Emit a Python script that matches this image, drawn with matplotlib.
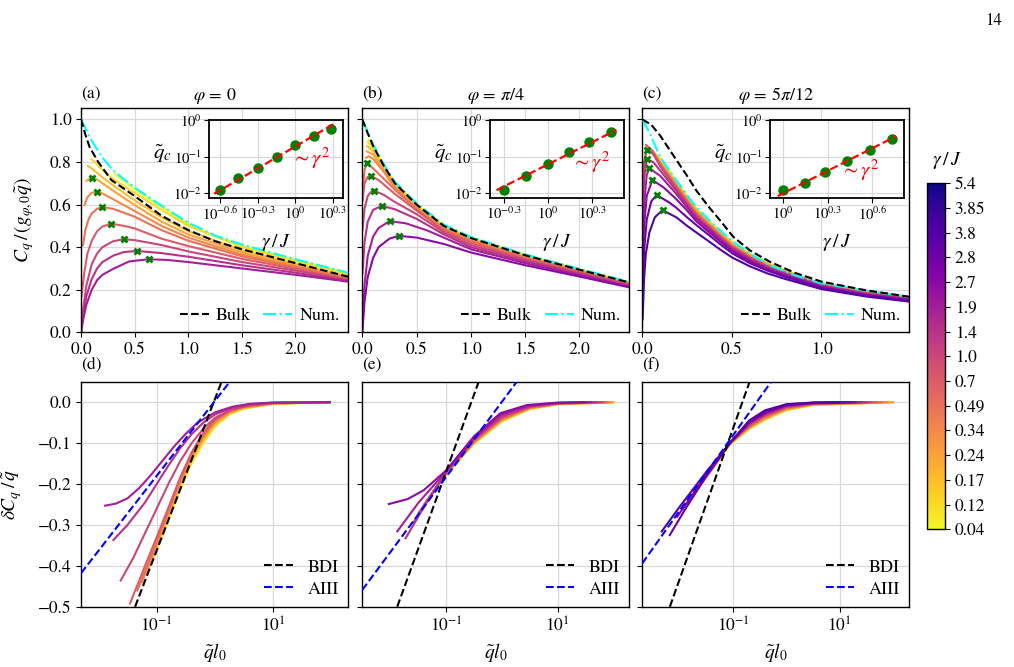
import numpy as np
import matplotlib
matplotlib.use("Agg")
import matplotlib.pyplot as plt
from matplotlib.colors import Normalize
from matplotlib.cm import ScalarMappable

plt.rcParams['font.family'] = 'STIXGeneral'
plt.rcParams['mathtext.fontset'] = 'stix'
plt.rcParams['font.size'] = 12
plt.rcParams['axes.linewidth'] = 1.0

# --- valores de gamma/J (barra de color) ---
gamma_labels = ['0.04', '0.12', '0.17', '0.24', '0.34', '0.49', '0.7', '1.0',
                '1.4', '1.9', '2.7', '2.8', '3.8', '3.85', '5.4']

# --- panel (a): phi = 0 ---
a_bulk_x = [0, 0.04, 0.08, 0.16, 0.283, 0.5, 0.75, 1.0, 1.25, 1.5, 2.0, 2.49]
a_bulk_y = [1.0, 0.93, 0.87, 0.80, 0.715, 0.64, 0.548, 0.48, 0.428, 0.39, 0.325, 0.261]
a_num_x = [0, 0.1, 0.2, 0.3, 0.5, 0.75, 1.0, 1.25, 1.5, 2.0, 2.49]
a_num_y = [1.0, 0.90, 0.82, 0.76, 0.68, 0.595, 0.515, 0.455, 0.412, 0.343, 0.28]
a_curves = {
    0: ([0.31, 0.5, 0.75, 1.0, 1.25, 1.5, 2.0, 2.49],
        [0.745, 0.672, 0.589, 0.509, 0.451, 0.408, 0.340, 0.277]),
    1: ([0.096, 0.15, 0.2, 0.3, 0.5, 0.75, 1.0, 1.5, 2.0, 2.49],
        [0.814, 0.788, 0.762, 0.72, 0.655, 0.575, 0.50, 0.40, 0.334, 0.272]),
    2: ([0.065, 0.1, 0.2, 0.3, 0.5, 0.75, 1.0, 1.5, 2.0, 2.49],
        [0.781, 0.77, 0.728, 0.69, 0.62, 0.54, 0.475, 0.385, 0.322, 0.262]),
    3: ([0.05, 0.075, 0.102, 0.15, 0.2, 0.3, 0.5, 0.75, 1.0, 1.5, 2.0, 2.49],
        [0.71, 0.722, 0.726, 0.718, 0.70, 0.665, 0.598, 0.52, 0.46, 0.375, 0.315, 0.258]),
    4: ([0.034, 0.06, 0.1, 0.149, 0.2, 0.3, 0.5, 0.75, 1.0, 1.5, 2.0, 2.49],
        [0.598, 0.635, 0.655, 0.66, 0.652, 0.625, 0.57, 0.50, 0.445, 0.365, 0.31, 0.255]),
    5: ([0.019, 0.04, 0.07, 0.1, 0.15, 0.199, 0.3, 0.5, 0.75, 1.0, 1.5, 2.0, 2.49],
        [0.41, 0.48, 0.53, 0.558, 0.58, 0.588, 0.58, 0.543, 0.48, 0.43, 0.357, 0.305, 0.252]),
    6: ([0.005, 0.03, 0.06, 0.1, 0.15, 0.2, 0.283, 0.4, 0.5, 0.75, 1.0, 1.5, 2.0, 2.49],
        [0.17, 0.28, 0.37, 0.43, 0.475, 0.497, 0.51, 0.50, 0.488, 0.44, 0.405, 0.345, 0.298, 0.248]),
    7: ([0, 0.02, 0.05, 0.1, 0.15, 0.2, 0.3, 0.4, 0.5, 0.75, 1.0, 1.5, 2.0, 2.49],
        [0.0, 0.11, 0.22, 0.32, 0.37, 0.40, 0.428, 0.437, 0.433, 0.41, 0.38, 0.33, 0.29, 0.245]),
    8: ([0, 0.02, 0.05, 0.1, 0.15, 0.2, 0.3, 0.4, 0.525, 0.75, 1.0, 1.5, 2.0, 2.49],
        [0, 0.08, 0.17, 0.25, 0.30, 0.33, 0.36, 0.377, 0.382, 0.372, 0.355, 0.315, 0.28, 0.241]),
    9: ([0, 0.02, 0.05, 0.1, 0.15, 0.2, 0.3, 0.45, 0.63, 0.8, 1.0, 1.5, 2.0, 2.49],
        [0, 0.06, 0.13, 0.2, 0.245, 0.27, 0.298, 0.333, 0.343, 0.34, 0.33, 0.30, 0.27, 0.238]),
}
a_mark_x = [0.102, 0.149, 0.199, 0.283, 0.40, 0.525, 0.63]
a_mark_y = [0.726, 0.660, 0.588, 0.510, 0.437, 0.382, 0.343]
a_in_g = [0.251, 0.352, 0.507, 0.71, 1.0, 1.406, 1.93]
a_in_q = [0.0128, 0.0257, 0.049, 0.1, 0.204, 0.37, 0.575]
a_fit_g = [0.225, 2.09]
a_fit_q = [0.0098, 0.815]

# --- panel (b): phi = pi/4 ---
b_bulk_x = [0, 0.05, 0.1, 0.2, 0.3, 0.5, 0.75, 1.0, 1.5, 2.0, 2.46]
b_bulk_y = [1.0, 0.935, 0.875, 0.78, 0.70, 0.60, 0.50, 0.443, 0.362, 0.294, 0.234]
b_num_y = [1.0, 0.94, 0.882, 0.787, 0.707, 0.606, 0.506, 0.448, 0.366, 0.298, 0.237]
b_curves = {
    0: ([0.06, 0.1, 0.2, 0.3, 0.5, 0.75, 1.0, 1.5, 2.0, 2.46],
        [0.905, 0.872, 0.782, 0.702, 0.602, 0.503, 0.445, 0.364, 0.296, 0.236]),
    1: ([0.05, 0.1, 0.2, 0.3, 0.5, 0.75, 1.0, 1.5, 2.0, 2.46],
        [0.895, 0.862, 0.776, 0.697, 0.597, 0.499, 0.441, 0.36, 0.293, 0.233]),
    2: ([0.045, 0.1, 0.2, 0.3, 0.5, 0.75, 1.0, 1.5, 2.0, 2.46],
        [0.875, 0.85, 0.77, 0.692, 0.592, 0.495, 0.438, 0.357, 0.291, 0.231]),
    3: ([0.04, 0.1, 0.2, 0.3, 0.5, 0.75, 1.0, 1.5, 2.0, 2.46],
        [0.85, 0.835, 0.762, 0.686, 0.587, 0.491, 0.435, 0.354, 0.289, 0.229]),
    4: ([0.035, 0.06, 0.1, 0.2, 0.3, 0.5, 0.75, 1.0, 1.5, 2.0, 2.46],
        [0.82, 0.826, 0.815, 0.752, 0.679, 0.582, 0.487, 0.432, 0.352, 0.287, 0.228]),
    5: ([0.008, 0.02, 0.04, 0.1, 0.2, 0.3, 0.5, 0.75, 1.0, 1.5, 2.0, 2.46],
        [0.68, 0.76, 0.793, 0.77, 0.72, 0.67, 0.578, 0.484, 0.428, 0.35, 0.285, 0.226]),
    6: ([0.004, 0.02, 0.05, 0.08, 0.15, 0.3, 0.5, 0.75, 1.0, 1.5, 2.0, 2.46],
        [0.62, 0.70, 0.73, 0.735, 0.715, 0.65, 0.572, 0.478, 0.42, 0.345, 0.282, 0.224]),
    7: ([0.002, 0.02, 0.05, 0.08, 0.111, 0.2, 0.3, 0.5, 0.75, 1.0, 1.5, 2.0, 2.46],
        [0.48, 0.58, 0.64, 0.66, 0.665, 0.645, 0.612, 0.555, 0.47, 0.41, 0.34, 0.278, 0.221]),
    8: ([0.002, 0.02, 0.05, 0.1, 0.179, 0.3, 0.5, 0.75, 1.0, 1.5, 2.0, 2.46],
        [0.28, 0.42, 0.52, 0.575, 0.594, 0.578, 0.533, 0.46, 0.40, 0.333, 0.274, 0.218]),
    9: ([0, 0.02, 0.05, 0.1, 0.15, 0.252, 0.4, 0.6, 0.75, 1.0, 1.5, 2.0, 2.46],
        [0, 0.22, 0.36, 0.45, 0.49, 0.522, 0.512, 0.478, 0.445, 0.39, 0.325, 0.268, 0.215]),
    10: ([0, 0.02, 0.05, 0.1, 0.15, 0.25, 0.338, 0.5, 0.75, 1.0, 1.5, 2.0, 2.46],
         [0, 0.14, 0.26, 0.35, 0.40, 0.44, 0.453, 0.445, 0.415, 0.375, 0.315, 0.262, 0.211]),
}
b_mark_x = [0.040, 0.080, 0.111, 0.179, 0.252, 0.338]
b_mark_y = [0.793, 0.735, 0.665, 0.594, 0.522, 0.453]
b_in_g = [0.5, 0.71, 1.0, 1.39, 1.88, 2.67]
b_in_q = [0.0128, 0.0308, 0.063, 0.132, 0.248, 0.478]
b_fit_g = [0.448, 2.9]
b_fit_q = [0.0123, 0.531]

# --- panel (c): phi = 5pi/12 ---
c_bulk_x = [0, 0.05, 0.098, 0.19, 0.25, 0.30, 0.37, 0.433, 0.507, 0.6, 0.71, 0.85, 1.0, 1.25, 1.49]
c_bulk_y = [1.0, 0.975, 0.926, 0.81, 0.735, 0.668, 0.59, 0.527, 0.449, 0.385, 0.332, 0.28, 0.238, 0.197, 0.167]
c_num_x = [0, 0.043, 0.098, 0.19, 0.25, 0.30, 0.37, 0.433, 0.507, 0.6, 0.71, 0.85, 1.0, 1.25, 1.49]
c_num_y = [1.0, 0.934, 0.825, 0.715, 0.645, 0.59, 0.53, 0.48, 0.426, 0.37, 0.316, 0.268, 0.23, 0.195, 0.167]
c_tail_x = [0.37, 0.433, 0.5, 0.6, 0.7, 0.8, 1.0, 1.25, 1.49]
c_curves = {
    0: ([0.1, 0.19, 0.25, 0.3] + c_tail_x,
        [0.82, 0.71, 0.64, 0.585, 0.525, 0.476, 0.425, 0.37, 0.325, 0.29, 0.229, 0.19, 0.165]),
    1: ([0.08, 0.19, 0.25, 0.3] + c_tail_x,
        [0.835, 0.705, 0.636, 0.58, 0.52, 0.472, 0.422, 0.367, 0.322, 0.288, 0.228, 0.189, 0.164]),
    2: ([0.06, 0.19, 0.25, 0.3] + c_tail_x,
        [0.85, 0.70, 0.632, 0.575, 0.516, 0.468, 0.418, 0.364, 0.32, 0.286, 0.227, 0.188, 0.163]),
    3: ([0.05, 0.1, 0.19, 0.25, 0.3] + c_tail_x,
        [0.855, 0.80, 0.695, 0.627, 0.57, 0.512, 0.464, 0.414, 0.361, 0.318, 0.284, 0.226, 0.187, 0.162]),
    4: ([0.04, 0.1, 0.19, 0.25, 0.3] + c_tail_x,
        [0.86, 0.795, 0.69, 0.622, 0.565, 0.508, 0.46, 0.41, 0.358, 0.315, 0.282, 0.225, 0.186, 0.161]),
    5: ([0.03, 0.1, 0.19, 0.25, 0.3] + c_tail_x,
        [0.87, 0.79, 0.685, 0.617, 0.56, 0.504, 0.456, 0.407, 0.355, 0.312, 0.28, 0.224, 0.185, 0.16]),
    6: ([0.02, 0.06, 0.1, 0.19, 0.25, 0.3] + c_tail_x,
        [0.88, 0.85, 0.785, 0.68, 0.612, 0.555, 0.5, 0.452, 0.403, 0.352, 0.31, 0.278, 0.222, 0.184, 0.159]),
    7: ([0.003, 0.012, 0.025, 0.06, 0.1, 0.19, 0.25, 0.3] + c_tail_x,
        [0.70, 0.81, 0.856, 0.84, 0.78, 0.675, 0.605, 0.55, 0.496, 0.448, 0.4, 0.349, 0.307, 0.276, 0.221, 0.182, 0.158]),
    8: ([0.003, 0.01, 0.025, 0.06, 0.1, 0.19, 0.25, 0.3] + c_tail_x,
        [0.55, 0.72, 0.813, 0.80, 0.76, 0.665, 0.597, 0.543, 0.49, 0.443, 0.395, 0.345, 0.304, 0.273, 0.219, 0.18, 0.156]),
    9: ([0.003, 0.01, 0.025, 0.04, 0.1, 0.19, 0.25, 0.3] + c_tail_x,
        [0.40, 0.60, 0.74, 0.77, 0.735, 0.65, 0.587, 0.535, 0.483, 0.437, 0.39, 0.34, 0.3, 0.27, 0.216, 0.178, 0.154]),
    10: ([0.002, 0.01, 0.025, 0.056, 0.12, 0.19, 0.25, 0.3] + c_tail_x,
         [0.25, 0.50, 0.64, 0.715, 0.68, 0.625, 0.572, 0.523, 0.472, 0.428, 0.382, 0.333, 0.295, 0.265, 0.212, 0.175, 0.151]),
    12: ([0.002, 0.01, 0.025, 0.05, 0.08, 0.15, 0.19, 0.25, 0.3] + c_tail_x,
         [0.15, 0.38, 0.53, 0.615, 0.645, 0.61, 0.585, 0.54, 0.505, 0.458, 0.415, 0.372, 0.325, 0.289, 0.26, 0.208, 0.172, 0.148]),
    14: ([0.002, 0.01, 0.02, 0.04, 0.07, 0.113, 0.19, 0.25, 0.3] + c_tail_x,
         [0.06, 0.25, 0.37, 0.47, 0.54, 0.574, 0.54, 0.5, 0.47, 0.428, 0.39, 0.352, 0.31, 0.276, 0.25, 0.203, 0.168, 0.144]),
}
c_mark_x = [0.025, 0.025, 0.040, 0.056, 0.080, 0.113]
c_mark_y = [0.856, 0.813, 0.770, 0.715, 0.645, 0.574]
c_in_g = [1.0, 1.41, 1.91, 2.69, 3.82, 5.4]
c_in_q = [0.0125, 0.0189, 0.0372, 0.0748, 0.15, 0.306]
c_fit_g = [0.925, 5.77]
c_fit_q = [0.0085, 0.363]

# --- paneles inferiores: log10(q l0) y delta C_q / q ---
d_curves = {
    0: ([-1.0, -0.8, -0.6, -0.4, -0.2, 0.0, 0.25, 0.5, 1.0, 1.97],
        [-0.36, -0.29, -0.215, -0.15, -0.10, -0.06, -0.03, -0.016, -0.004, 0.0]),
    1: ([-1.06, -0.8, -0.6, -0.4, -0.2, 0.0, 0.25, 0.5, 1.0, 1.97],
        [-0.38, -0.285, -0.21, -0.145, -0.096, -0.057, -0.028, -0.015, -0.004, 0.0]),
    2: ([-1.12, -0.8, -0.6, -0.4, -0.2, 0.0, 0.25, 0.5, 1.0, 1.97],
        [-0.40, -0.28, -0.205, -0.14, -0.092, -0.054, -0.027, -0.014, -0.004, 0.0]),
    3: ([-1.18, -0.8, -0.6, -0.4, -0.2, 0.0, 0.25, 0.5, 1.0, 1.97],
        [-0.42, -0.275, -0.20, -0.136, -0.088, -0.051, -0.026, -0.013, -0.003, 0.0]),
    4: ([-1.25, -1.0, -0.8, -0.6, -0.4, -0.2, 0.0, 0.25, 0.5, 1.0, 1.97],
        [-0.44, -0.345, -0.27, -0.195, -0.132, -0.084, -0.048, -0.024, -0.012, -0.003, 0.0]),
    5: ([-1.33, -1.0, -0.8, -0.6, -0.4, -0.2, 0.0, 0.25, 0.5, 1.0, 1.97],
        [-0.46, -0.34, -0.265, -0.19, -0.128, -0.08, -0.045, -0.022, -0.011, -0.003, 0.0]),
    6: ([-1.457, -1.2, -1.0, -0.8, -0.6, -0.4, -0.2, 0.0, 0.25, 0.5, 1.0, 1.97],
        [-0.492, -0.40, -0.33, -0.258, -0.185, -0.122, -0.075, -0.042, -0.02, -0.01, -0.002, 0.0]),
    7: ([-1.617, -1.4, -1.2, -1.0, -0.8, -0.6, -0.4, -0.2, 0.0, 0.3, 0.6, 1.0, 1.97],
        [-0.436, -0.38, -0.32, -0.26, -0.20, -0.145, -0.10, -0.065, -0.038, -0.017, -0.007, -0.002, 0.0]),
    8: ([-1.743, -1.5, -1.2, -1.0, -0.8, -0.6, -0.4, -0.2, 0.0, 0.3, 0.6, 1.0, 1.97],
        [-0.337, -0.30, -0.245, -0.20, -0.155, -0.113, -0.078, -0.05, -0.03, -0.013, -0.005, -0.001, 0.0]),
    9: ([-1.886, -1.7, -1.5, -1.3, -1.1, -0.9, -0.7, -0.5, -0.3, 0.0, 0.3, 0.6, 1.0, 1.97],
        [-0.253, -0.248, -0.235, -0.21, -0.178, -0.143, -0.108, -0.077, -0.05, -0.025, -0.011, -0.004, -0.001, 0.0]),
}
d_bdi = ([-1.371, 0.114], [-0.5, 0.0506])
d_aiii = ([-2.297, 0.257], [-0.418, 0.0506])

e_curves = {
    0: ([-1.1, -1.0, -0.5, 0.0, 0.5, 1.0, 2.006], [-0.195, -0.177, -0.101, -0.047, -0.017, -0.005, 0]),
    1: ([-1.15, -1.0, -0.5, 0.0, 0.5, 1.0, 2.0], [-0.203, -0.176, -0.1, -0.046, -0.016, -0.005, 0]),
    2: ([-1.2, -1.0, -0.5, 0.0, 0.5, 1.0, 2.0], [-0.212, -0.175, -0.099, -0.045, -0.016, -0.005, 0]),
    3: ([-1.25, -1.0, -0.5, 0.0, 0.5, 1.0, 2.0], [-0.222, -0.174, -0.098, -0.044, -0.015, -0.004, 0]),
    4: ([-1.3, -1.0, -0.5, 0.0, 0.5, 1.0, 1.95], [-0.23, -0.173, -0.097, -0.042, -0.014, -0.004, 0]),
    5: ([-1.4, -1.0, -0.5, 0.0, 0.5, 1.0, 1.9], [-0.25, -0.172, -0.095, -0.04, -0.013, -0.004, 0]),
    6: ([-1.5, -1.0, -0.5, 0.0, 0.5, 1.0, 1.85], [-0.27, -0.171, -0.093, -0.038, -0.012, -0.003, 0]),
    7: ([-1.6, -1.3, -1.0, -0.5, 0.0, 0.5, 1.0, 1.8], [-0.295, -0.232, -0.17, -0.091, -0.036, -0.011, -0.003, 0]),
    8: ([-1.737, -1.4, -1.0, -0.5, 0.0, 0.5, 1.0, 1.7], [-0.333, -0.255, -0.169, -0.089, -0.033, -0.01, -0.002, 0]),
    9: ([-1.886, -1.5, -1.0, -0.5, -0.03, 0.45, 1.0, 1.6], [-0.316, -0.245, -0.168, -0.087, -0.031, -0.009, -0.002, 0]),
    10: ([-2.036, -1.7, -1.407, -1.0, -0.509, -0.03, 0.449, 1.0, 1.5],
         [-0.249, -0.237, -0.215, -0.166, -0.084, -0.027, -0.007, -0.001, 0.0]),
}
e_bdi = ([-1.886, -0.419], [-0.5, 0.0506])
e_aiii = ([-2.515, 0.269], [-0.459, 0.0506])

f_curves = {
    0: ([-1.25, -1.06, -0.7, -0.4, 0.0, 0.5, 2.0], [-0.138, -0.104, -0.066, -0.043, -0.02, -0.007, 0]),
    1: ([-1.3, -1.06, -0.7, -0.4, 0.0, 0.5, 2.0], [-0.147, -0.103, -0.065, -0.042, -0.019, -0.007, 0]),
    2: ([-1.35, -1.06, -0.7, -0.4, 0.0, 0.5, 2.0], [-0.156, -0.102, -0.064, -0.041, -0.018, -0.006, 0]),
    3: ([-1.4, -1.06, -0.7, -0.4, 0.0, 0.5, 2.0], [-0.165, -0.101, -0.063, -0.04, -0.017, -0.006, 0]),
    4: ([-1.45, -1.06, -0.7, -0.4, 0.0, 0.5, 1.9], [-0.174, -0.1, -0.062, -0.038, -0.016, -0.005, 0]),
    5: ([-1.55, -1.06, -0.7, -0.4, 0.0, 0.5, 1.8], [-0.192, -0.1, -0.06, -0.036, -0.015, -0.005, 0]),
    6: ([-1.65, -1.06, -0.7, -0.4, 0.0, 0.5, 1.7], [-0.21, -0.1, -0.058, -0.034, -0.013, -0.004, 0]),
    7: ([-1.75, -1.5, -1.06, -0.7, -0.4, 0.0, 0.5, 1.6], [-0.228, -0.177, -0.1, -0.056, -0.032, -0.012, -0.003, 0]),
    8: ([-1.85, -1.5, -1.06, -0.7, -0.4, 0.0, 0.5, 1.5], [-0.245, -0.176, -0.1, -0.054, -0.03, -0.01, -0.003, 0]),
    9: ([-1.95, -1.5, -1.06, -0.7, -0.4, 0.0, 0.5, 1.4], [-0.262, -0.176, -0.1, -0.052, -0.028, -0.009, -0.002, 0]),
    10: ([-2.05, -1.5, -1.06, -0.7, -0.4, 0.0, 0.5, 1.3], [-0.28, -0.178, -0.1, -0.05, -0.026, -0.008, -0.002, 0]),
    12: ([-2.19, -1.9, -1.5, -1.06, -0.7, -0.4, 0.0, 0.5, 1.2],
         [-0.325, -0.262, -0.18, -0.1, -0.048, -0.023, -0.006, -0.001, 0]),
    14: ([-2.34, -2.0, -1.5, -1.06, -0.7, -0.4, 0.0, 0.5, 1.0],
         [-0.316, -0.255, -0.17, -0.1, -0.045, -0.02, -0.005, -0.001, 0]),
}
f_bdi = ([-2.1875, -0.6875], [-0.5, 0.0506])
f_aiii = ([-2.706, -0.281], [-0.394, 0.0506])

# en (c) y (f) las curvas mas oscuras se ven violetas, no azul marino
color_shift = {12: 11, 14: 12}

cmap = plt.get_cmap('plasma_r')
norm = Normalize(0, len(gamma_labels) - 1)
GRID = '#d9d9d9'


def curve_color(idx):
    return cmap(norm(color_shift.get(idx, idx)))


fig = plt.figure(figsize=(10.14, 6.67), dpi=100)
fig.text(0.988, 0.968, '14', ha='right', va='center', fontsize=12)

col_left = [0.0799, 0.3573, 0.6334]
wid = 0.2633
top_axes = [fig.add_axes([l, 0.5018, wid, 0.3358]) for l in col_left]
bot_axes = [fig.add_axes([l, 0.0904, wid, 0.3373]) for l in col_left]

top_data = [
    (a_curves, a_bulk_x, a_bulk_y, a_num_x, a_num_y, a_mark_x, a_mark_y, 2.49),
    (b_curves, b_bulk_x, b_bulk_y, b_bulk_x, b_num_y, b_mark_x, b_mark_y, 2.46),
    (c_curves, c_bulk_x, c_bulk_y, c_num_x, c_num_y, c_mark_x, c_mark_y, 1.49),
]
insets = [
    (a_in_g, a_in_q, a_fit_g, a_fit_q, (10**-0.688, 10**0.38), [10**-0.6, 10**-0.3, 1, 10**0.3],
     ['$10^{-0.6}$', '$10^{-0.3}$', '$10^{0}$', '$10^{0.3}$'], (0.61, 0.50)),
    (b_in_g, b_in_q, b_fit_g, b_fit_q, (10**-0.39, 10**0.514), [10**-0.3, 1, 10**0.3],
     ['$10^{-0.3}$', '$10^{0}$', '$10^{0.3}$'], (0.60, 0.46)),
    (c_in_g, c_in_q, c_fit_g, c_fit_q, (10**-0.083, 10**0.812), [1, 10**0.3, 10**0.6],
     ['$10^{0}$', '$10^{0.3}$', '$10^{0.6}$'], (0.52, 0.35)),
]
titles = [r'$\varphi\,=\,0$', r'$\varphi\,=\,\pi/4$', r'$\varphi\,=\,5\pi/12$']

for k, ax in enumerate(top_axes):
    curves, bx, by, nx, ny, mx, my, xmax = top_data[k]
    ax.set_axisbelow(True)
    ax.grid(True, color=GRID, lw=0.9)
    for idx in sorted(curves):
        xs, ys = curves[idx]
        ax.plot(xs, ys, color=curve_color(idx), lw=1.5)
    ax.plot(bx, by, color='k', ls='--', lw=1.5, label='Bulk', zorder=4)
    ax.plot(nx, ny, color='cyan', ls='-.', lw=1.5, label='Num.', zorder=3)
    ax.plot(mx, my, ls='none', marker='x', color='green', ms=5, mew=2, zorder=5)
    ax.set_xlim(0, xmax)
    ax.set_ylim(0, 1.052)
    ax.set_yticks([0, 0.2, 0.4, 0.6, 0.8, 1.0])
    ax.set_xticks([0, 0.5, 1.0, 1.5, 2.0] if xmax > 2 else [0, 0.5, 1.0])
    ax.set_title(titles[k], fontsize=13, pad=6)
    ax.text(0.0, 1.03, '(%s)' % 'abc'[k], transform=ax.transAxes, ha='left', va='bottom', fontsize=12.5)
    if k > 0:
        ax.tick_params(labelleft=False)
    ax.legend(loc='lower right', ncol=2, frameon=False, fontsize=13, borderaxespad=0.05,
              columnspacing=0.7, handlelength=1.6, handletextpad=0.4)

    g, q, fg, fq, xl, xt, xtl, tpos = insets[k]
    ins = ax.inset_axes([0.48, 0.60, 0.50, 0.35])
    ins.set_xscale('log')
    ins.set_yscale('log')
    ins.set_axisbelow(True)
    ins.plot(g, q, 'o', color='green', ms=6.5, zorder=3)
    ins.plot(fg, fq, color='red', ls='--', lw=1.6, zorder=4)
    ins.set_xlim(*xl)
    ins.set_ylim(10**-2.12, 10**0.01)
    ins.set_xticks(xt)
    ins.set_xticklabels(xtl)
    ins.set_yticks([0.01, 0.1, 1])
    ins.set_yticklabels(['$10^{-2}$', '$10^{-1}$', '$10^{0}$'])
    ins.minorticks_off()
    ins.tick_params(labelsize=10.5, length=3.5, pad=2)
    ins.grid(True, color=GRID, lw=0.9)
    for s in ins.spines.values():
        s.set_linewidth(1.3)
    ins.set_xlabel(r'$\gamma\,/\,J$', fontsize=14)
    ins.xaxis.set_label_coords(0.5, -0.43)
    ins.set_ylabel(r'$\tilde{q}_c$', fontsize=15, rotation=0, ha='center', va='center')
    ins.yaxis.set_label_coords(-0.35, 0.56)
    ins.text(tpos[0], tpos[1], r'$\sim\gamma^2$', color='red', fontsize=15,
             transform=ins.transAxes, ha='left', va='center')

top_axes[0].set_ylabel(r'$C_q\,/\,(g_{\varphi,0}\tilde{q})$', fontsize=14)
top_axes[0].yaxis.set_label_coords(-0.17, 0.5)

bot_data = [(d_curves, d_bdi, d_aiii, (-2.298, 2.28)),
            (e_curves, e_bdi, e_aiii, (-2.515, 2.29)),
            (f_curves, f_bdi, f_aiii, (-2.706, 2.31))]
for k, ax in enumerate(bot_axes):
    curves, bdi, aiii, lims = bot_data[k]
    ax.set_xscale('log')
    ax.set_axisbelow(True)
    ax.grid(True, color=GRID, lw=0.9)
    for idx in sorted(curves):
        lx, ys = curves[idx]
        ax.plot(10 ** np.array(lx), ys, color=curve_color(idx), lw=1.5)
    ax.plot(10 ** np.array(bdi[0]), bdi[1], color='k', ls='--', lw=1.5, label='BDI', zorder=4)
    ax.plot(10 ** np.array(aiii[0]), aiii[1], color='blue', ls='--', lw=1.5, label='AIII', zorder=4)
    ax.set_xlim(10 ** lims[0], 10 ** lims[1])
    ax.set_ylim(-0.5, 0.05)
    ax.set_xticks([0.1, 10])
    ax.set_xticklabels(['$10^{-1}$', '$10^{1}$'])
    ax.minorticks_off()
    ax.set_yticks([-0.5, -0.4, -0.3, -0.2, -0.1, 0.0])
    ax.set_xlabel(r'$\tilde{q}l_0$', fontsize=14)
    ax.text(0.0, 1.04, '(%s)' % 'def'[k], transform=ax.transAxes, ha='left', va='bottom', fontsize=12.5)
    if k > 0:
        ax.tick_params(labelleft=False)
    ax.legend(loc='lower right', frameon=False, fontsize=13, borderaxespad=0.1,
              handlelength=1.6, handletextpad=0.8, labelspacing=0.3)

bot_axes[0].set_ylabel(r'$\delta C_q\,/\,\tilde{q}$', fontsize=14)
bot_axes[0].yaxis.set_label_coords(-0.215, 0.5)

for ax in top_axes + bot_axes:
    ax.tick_params(labelsize=12.5)

cax = fig.add_axes([0.9139, 0.2064, 0.018, 0.5188])
sm = ScalarMappable(norm=norm, cmap=cmap)
cb = fig.colorbar(sm, cax=cax, ticks=range(len(gamma_labels)))
cb.ax.set_yticklabels(gamma_labels)
cb.ax.tick_params(labelsize=12.5)
fig.text(0.934, 0.76, r'$\gamma\,/\,J$', ha='center', va='center', fontsize=14)

fig.savefig('out.png', dpi=100)
